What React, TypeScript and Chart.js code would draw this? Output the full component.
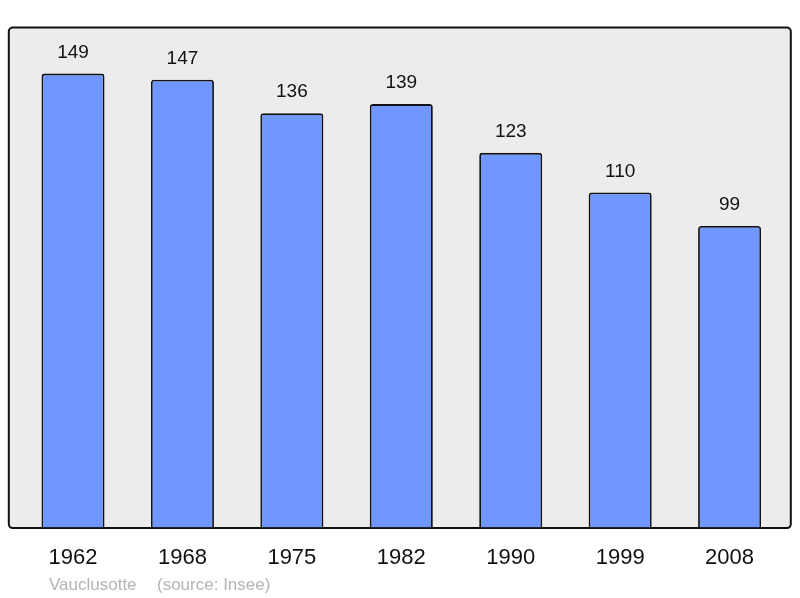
import React, { useEffect, useRef } from "react";
import { Chart, registerables } from "chart.js";

Chart.register(...registerables);

const years = ["1962", "1968", "1975", "1982", "1990", "1999", "2008"];
const population = [149, 147, 136, 139, 123, 110, 99];
const footerName = "Vauclusotte";
const footerSource = "(source: Insee)";

const FONT = "'Liberation Sans', Arial, sans-serif";

const framePlugin = {
  id: "frame",
  beforeDatasetsDraw(chart: any) {
    const { ctx, chartArea } = chart;
    const x0 = chartArea.left - 9.5;
    const x1 = chartArea.right + 6.5;
    const y0 = chartArea.top + 0.5;
    const y1 = chartArea.bottom + 0.5;
    ctx.save();
    ctx.beginPath();
    ctx.roundRect(x0, y0, x1 - x0, y1 - y0, 4);
    ctx.fillStyle = "#ececec";
    ctx.fill();
    ctx.lineWidth = 2;
    ctx.strokeStyle = "#111";
    ctx.stroke();
    ctx.restore();
  },
  afterDatasetsDraw(chart: any) {
    const { ctx } = chart;
    const meta = chart.getDatasetMeta(0);
    ctx.save();
    ctx.fillStyle = "#111";
    ctx.font = `19px ${FONT}`;
    ctx.textAlign = "center";
    ctx.textBaseline = "middle";
    meta.data.forEach((bar: any, i: number) => {
      ctx.fillText(String(population[i]), bar.x, bar.y - 21);
    });
    ctx.fillStyle = "#b4b4b4";
    ctx.font = `17px ${FONT}`;
    ctx.textAlign = "left";
    ctx.textBaseline = "alphabetic";
    ctx.fillText(footerName, 49, 590);
    ctx.fillText(footerSource, 157, 590);
    ctx.restore();
  },
};

export default function App() {
  const ref = useRef<HTMLCanvasElement>(null);
  useEffect(() => {
    if (!ref.current) return;
    const chart = new Chart(ref.current, {
      type: "bar",
      data: {
        labels: years,
        datasets: [
          {
            data: population,
            backgroundColor: "#7096ff",
            borderColor: "#111",
            borderWidth: 1.8,
            borderRadius: 3,
            barPercentage: 0.576,
            categoryPercentage: 1,
          },
        ],
      },
      options: {
        responsive: false,
        animation: false,
        layout: { padding: { left: 18.3, right: 15.7, top: 27, bottom: 18 } },
        plugins: { legend: { display: false }, tooltip: { enabled: false } },
        scales: {
          x: {
            grid: { display: false },
            border: { display: false },
            ticks: { color: "#111", font: { size: 22, family: FONT }, padding: 9 },
          },
          y: { display: false, min: 0, max: 164.3 },
        },
      },
      plugins: [framePlugin],
    });
    return () => chart.destroy();
  }, []);
  return (
    <div style={{ position: "absolute", left: 0, top: 0, width: 800, height: 598 }}>
      <canvas ref={ref} width={800} height={598} />
    </div>
  );
}
